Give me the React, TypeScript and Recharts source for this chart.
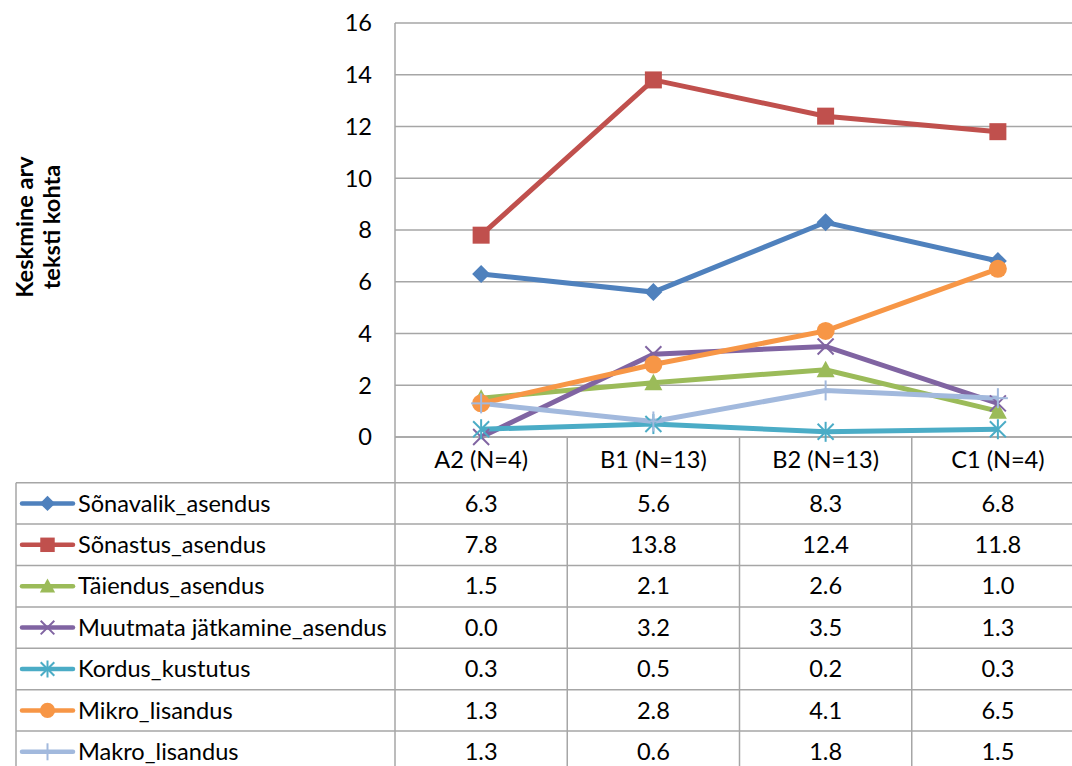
import React from 'react';
import { LineChart, Line, XAxis, YAxis, CartesianGrid, Legend } from 'recharts';

// Category labels and series values (average count per text)
const categories = ['A2 (N=4)', 'B1 (N=13)', 'B2 (N=13)', 'C1 (N=4)'];
const sonavalikAsendus = [6.3, 5.6, 8.3, 6.8];
const sonastusAsendus = [7.8, 13.8, 12.4, 11.8];
const taiendusAsendus = [1.5, 2.1, 2.6, 1.0];
const muutmataJatkamineAsendus = [0.0, 3.2, 3.5, 1.3];
const kordusKustutus = [0.3, 0.5, 0.2, 0.3];
const mikroLisandus = [1.3, 2.8, 4.1, 6.5];
const makroLisandus = [1.3, 0.6, 1.8, 1.5];
const yTicks = [0, 2, 4, 6, 8, 10, 12, 14, 16];

type Shape = 'diamond' | 'square' | 'triangle' | 'x' | 'star' | 'circle' | 'plus';

const series: { key: string; name: string; values: number[]; color: string; shape: Shape }[] = [
  { key: 's1', name: 'Sõnavalik_asendus', values: sonavalikAsendus, color: '#4F81BD', shape: 'diamond' },
  { key: 's2', name: 'Sõnastus_asendus', values: sonastusAsendus, color: '#C0504D', shape: 'square' },
  { key: 's3', name: 'Täiendus_asendus', values: taiendusAsendus, color: '#9BBB59', shape: 'triangle' },
  { key: 's4', name: 'Muutmata jätkamine_asendus', values: muutmataJatkamineAsendus, color: '#8064A2', shape: 'x' },
  { key: 's5', name: 'Kordus_kustutus', values: kordusKustutus, color: '#4BACC6', shape: 'star' },
  { key: 's6', name: 'Mikro_lisandus', values: mikroLisandus, color: '#F79646', shape: 'circle' },
  { key: 's7', name: 'Makro_lisandus', values: makroLisandus, color: '#A2B9DD', shape: 'plus' },
];

const data = categories.map((category, idx) => {
  const row: Record<string, number | string> = { idx, category };
  series.forEach((s) => {
    row[s.key] = s.values[idx];
  });
  return row;
});

// Layout of the chart and the data table underneath it
const CHART_W = 1100;
const CHART_H = 766;
const PLOT_LEFT = 395;
const PLOT_RIGHT = 1084;
const PLOT_TOP = 23;
const PLOT_BOTTOM = 437;
const COL_W = (PLOT_RIGHT - PLOT_LEFT) / categories.length;
const HEADER_BOTTOM = 482.7;
const ROW_H = 41.4;
const TABLE_LEFT = 16;
const GRID = '#A6A6A6';
const FONT = 'Lato, "Open Sans", sans-serif';
const FONT_SIZE = 23.6;

function Marker({ shape, cx, cy, color, s = 1 }: { shape: Shape; cx: number; cy: number; color: string; s?: number }) {
  const r = 9 * s;
  switch (shape) {
    case 'diamond':
      return <polygon points={`${cx},${cy - r} ${cx + r},${cy} ${cx},${cy + r} ${cx - r},${cy}`} fill={color} />;
    case 'square':
      return <rect x={cx - 8.5 * s} y={cy - 8.5 * s} width={17 * s} height={17 * s} fill={color} />;
    case 'triangle':
      return <polygon points={`${cx},${cy - r} ${cx + r},${cy + 7.5 * s} ${cx - r},${cy + 7.5 * s}`} fill={color} />;
    case 'circle':
      return <circle cx={cx} cy={cy} r={r} fill={color} />;
    case 'x':
      return (
        <g stroke={color} strokeWidth={2}>
          <line x1={cx - 8 * s} y1={cy - 8 * s} x2={cx + 8 * s} y2={cy + 8 * s} />
          <line x1={cx - 8 * s} y1={cy + 8 * s} x2={cx + 8 * s} y2={cy - 8 * s} />
        </g>
      );
    case 'star':
      return (
        <g stroke={color} strokeWidth={2}>
          <line x1={cx - 8 * s} y1={cy - 8 * s} x2={cx + 8 * s} y2={cy + 8 * s} />
          <line x1={cx - 8 * s} y1={cy + 8 * s} x2={cx + 8 * s} y2={cy - 8 * s} />
          <line x1={cx} y1={cy - 10 * s} x2={cx} y2={cy + 10 * s} />
        </g>
      );
    case 'plus':
    default:
      return (
        <g stroke={color} strokeWidth={2}>
          <line x1={cx} y1={cy - 10 * s} x2={cx} y2={cy + 10 * s} />
          <line x1={cx - 10 * s} y1={cy} x2={cx + 10 * s} y2={cy} />
        </g>
      );
  }
}

// One column of the data table: category header plus the values of every series
function TableColumn(props: any) {
  const { x, payload } = props;
  const i = payload.value as number;
  return (
    <g>
      {i === 0 && <line x1={x - COL_W / 2} y1={PLOT_BOTTOM} x2={x - COL_W / 2} y2={CHART_H} stroke={GRID} strokeWidth={1.5} />}
      <line x1={x + COL_W / 2} y1={PLOT_BOTTOM} x2={x + COL_W / 2} y2={CHART_H} stroke={GRID} strokeWidth={1.5} />
      <text x={x} y={(PLOT_BOTTOM + HEADER_BOTTOM) / 2} dy="0.35em" textAnchor="middle" fontFamily={FONT} fontSize={FONT_SIZE} fill="#000">
        {categories[i]}
      </text>
      {series.map((s, k) => (
        <text
          key={s.key}
          x={x}
          y={HEADER_BOTTOM + k * ROW_H + ROW_H / 2}
          dy="0.35em"
          textAnchor="middle"
          fontFamily={FONT}
          fontSize={FONT_SIZE}
          fill="#000"
        >
          {s.values[i].toFixed(1)}
        </text>
      ))}
    </g>
  );
}

// Row headers of the data table with the series keys
function TableLegend() {
  return (
    <svg width={CHART_W} height={CHART_H} style={{ display: 'block' }}>
      {series.map((_, k) => (
        <line
          key={`h${k}`}
          x1={TABLE_LEFT}
          y1={HEADER_BOTTOM + k * ROW_H}
          x2={PLOT_RIGHT}
          y2={HEADER_BOTTOM + k * ROW_H}
          stroke={GRID}
          strokeWidth={1.5}
        />
      ))}
      <line x1={TABLE_LEFT} y1={HEADER_BOTTOM} x2={TABLE_LEFT} y2={CHART_H} stroke={GRID} strokeWidth={1.5} />
      {series.map((s, k) => {
        const cy = HEADER_BOTTOM + k * ROW_H + ROW_H / 2;
        return (
          <g key={s.key}>
            <line x1={22} y1={cy} x2={73} y2={cy} stroke={s.color} strokeWidth={4.5} strokeLinecap="round" />
            <Marker shape={s.shape} cx={47.5} cy={cy} color={s.color} s={0.85} />
            <text x={78} y={cy} dy="0.35em" fontFamily={FONT} fontSize={FONT_SIZE} fill="#000">
              {s.name}
            </text>
          </g>
        );
      })}
    </svg>
  );
}

function AxisTitle() {
  const cy = (PLOT_TOP + PLOT_BOTTOM) / 2 - 3;
  const lines = ['Keskmine arv', 'teksti kohta'];
  const xs = [33, 60];
  return (
    <g>
      {lines.map((t, k) => (
        <text
          key={t}
          x={xs[k]}
          y={cy}
          transform={`rotate(-90, ${xs[k]}, ${cy})`}
          textAnchor="middle"
          fontFamily={FONT}
          fontWeight={700}
          fontSize={FONT_SIZE}
          fill="#000"
        >
          {t}
        </text>
      ))}
    </g>
  );
}

export default function App() {
  return (
    <div style={{ position: 'absolute', left: 0, top: 0, width: 1072, height: 766, overflow: 'hidden', background: '#fff' }}>
      <LineChart width={CHART_W} height={CHART_H} data={data} margin={{ top: PLOT_TOP, right: CHART_W - PLOT_RIGHT, bottom: 0, left: 0 }}>
        <CartesianGrid vertical={false} stroke={GRID} strokeWidth={1.5} />
        <XAxis
          dataKey="idx"
          type="number"
          domain={[-0.5, categories.length - 0.5]}
          ticks={categories.map((_, i) => i)}
          interval={0}
          height={CHART_H - PLOT_BOTTOM}
          axisLine={{ stroke: GRID, strokeWidth: 1.5 }}
          tickLine={false}
          tickSize={0}
          tickMargin={0}
          tick={<TableColumn />}
        />
        <YAxis
          width={PLOT_LEFT}
          domain={[0, 16]}
          ticks={yTicks}
          interval={0}
          axisLine={{ stroke: GRID, strokeWidth: 1.5 }}
          tickLine={false}
          tickSize={0}
          tickMargin={23}
          tick={{ fontFamily: FONT, fontSize: FONT_SIZE, fill: '#000' }}
          label={<AxisTitle />}
        />
        <Legend
          layout="horizontal"
          verticalAlign="middle"
          align="center"
          wrapperStyle={{ position: 'absolute', left: 0, top: 0, width: CHART_W, height: CHART_H, pointerEvents: 'none' }}
          content={<TableLegend />}
        />
        {series.map((s) => (
          <Line
            key={s.key}
            type="linear"
            dataKey={s.key}
            name={s.name}
            stroke={s.color}
            strokeWidth={5}
            isAnimationActive={false}
            dot={(p: any) => <Marker key={`${s.key}-${p.index}`} shape={s.shape} cx={p.cx} cy={p.cy} color={s.color} />}
            activeDot={false}
          />
        ))}
      </LineChart>
    </div>
  );
}
